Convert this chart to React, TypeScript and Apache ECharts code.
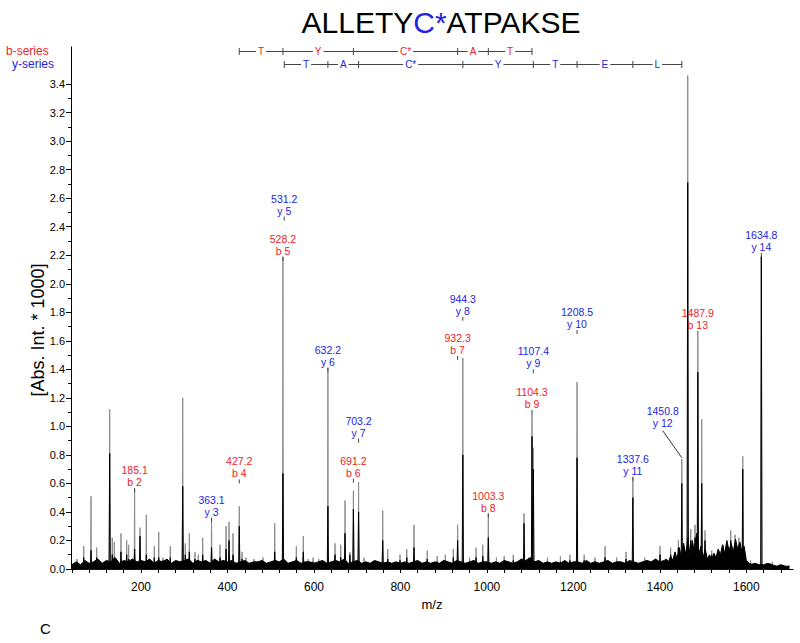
import React, { useEffect, useRef } from 'react';
import * as echarts from 'echarts';

const FONT = '"Liberation Sans", Arial, Helvetica, sans-serif';
const RED = '#ee2228';
const BLUE = '#2323e6';

// axis ticks
const xLabelValues = [200, 400, 600, 800, 1000, 1200, 1400, 1600];
const xTickValues = [40, 80, 120, 160, 200, 240, 280, 320, 360, 400, 440, 480, 520, 560, 600, 640, 680, 720, 760, 800, 840, 880, 920, 960, 1000, 1040, 1080, 1120, 1160, 1200, 1240, 1280, 1320, 1360, 1400, 1440, 1480, 1520, 1560, 1600, 1640, 1680];
const yLabelValues = [0, 0.2, 0.4, 0.6, 0.8, 1.0, 1.2, 1.4, 1.6, 1.8, 2.0, 2.2, 2.4, 2.6, 2.8, 3.0, 3.2, 3.4];
const yMinorValues = [0.1, 0.3, 0.5, 0.7, 0.9, 1.1, 1.3, 1.5, 1.7, 1.9, 2.1, 2.3, 2.5, 2.7, 2.9, 3.1, 3.3];

// spectrum peaks (m/z, outer trace height, inner trace height) in [Abs. Int. * 1000]
const peakMz = [52, 67.4, 84.3, 97.4, 127.5, 133.5, 138.2, 153.6, 166.8, 171.4, 185.1, 197.6, 212.2, 230.7, 240.9, 250.8, 267.7, 296.4, 302.4, 311.7, 324.8, 332.5, 342.6, 363.1, 382.7, 396.6, 403.5, 412.8, 427.2, 433.6, 442.8, 461, 482, 509.2, 528.2, 559.2, 575.3, 586, 598, 611, 632.2, 648.7, 661.9, 671.8, 683, 691.2, 703.2, 716, 759, 770.6, 799, 814.6, 831.4, 862, 885, 903.8, 922.3, 932.3, 944.3, 960, 974.9, 990.4, 1003.3, 1022, 1040, 1061, 1085.9, 1104.3, 1107.4, 1140, 1170, 1192, 1208.5, 1225, 1250, 1273.3, 1300, 1321.8, 1337.6, 1365, 1400.5, 1425, 1442.8, 1450.8, 1464.5, 1471.5, 1481.4, 1487.9, 1496.9, 1504.5, 1520, 1547, 1564, 1574, 1583, 1591.8, 1610, 1634.8, 1660];
const peakOuter = [0.07, 0.16, 0.51, 0.15, 1.12, 0.22, 0.19, 0.25, 0.2, 0.17, 0.56, 0.29, 0.38, 0.16, 0.26, 0.08, 0.16, 1.2, 0.18, 0.25, 0.12, 0.1, 0.22, 0.35, 0.17, 0.3, 0.33, 0.25, 0.44, 0.12, 0.08, 0.07, 0.08, 0.32, 2.19, 0.16, 0.23, 0.07, 0.08, 0.07, 1.41, 0.18, 0.17, 0.48, 0.12, 0.55, 0.61, 0.08, 0.41, 0.14, 0.1, 0.14, 0.31, 0.13, 0.09, 0.1, 0.14, 0.31, 1.48, 0.08, 0.15, 0.17, 0.39, 0.08, 0.09, 0.1, 0.39, 1.09, 0.85, 0.08, 0.09, 0.1, 1.31, 0.1, 0.08, 0.16, 0.08, 0.12, 0.64, 0.08, 0.16, 0.15, 0.2, 0.77, 3.46, 0.28, 0.31, 1.64, 1.05, 0.27, 0.13, 0.17, 0.27, 0.24, 0.22, 0.79, 0.06, 2.19, 0.05];
const peakInner = [0.05, 0.08, 0.13, 0.08, 0.81, 0.1, 0.08, 0.12, 0.1, 0.07, 0.14, 0.23, 0.1, 0.08, 0.08, 0.06, 0.08, 0.58, 0.1, 0.12, 0.07, 0.06, 0.1, 0.15, 0.08, 0.14, 0.2, 0.1, 0.3, 0.07, 0.05, 0.05, 0.05, 0.12, 0.67, 0.08, 0.12, 0.05, 0.05, 0.05, 0.44, 0.1, 0.08, 0.25, 0.1, 0.42, 0.4, 0.05, 0.2, 0.07, 0.06, 0.08, 0.15, 0.07, 0.05, 0.06, 0.08, 0.2, 0.8, 0.05, 0.08, 0.09, 0.22, 0.05, 0.05, 0.06, 0.32, 0.93, 0.7, 0.05, 0.05, 0.06, 0.78, 0.06, 0.05, 0.08, 0.05, 0.07, 0.5, 0.05, 0.1, 0.1, 0.15, 0.6, 2.71, 0.2, 0.22, 1.38, 0.6, 0.2, 0.1, 0.12, 0.2, 0.18, 0.16, 0.7, 0.04, 2.19, 0.03];

// baseline noise envelope, sampled in three stretches (start m/z, sampling step, levels)
const noiseFlatStart = 40;
const noiseFlatStep = 10;
const noiseFlat = [
  0.03, 0.05, 0.03, 0.06, 0.04, 0.05, 0.07, 0.04, 0.06, 0.05, 0.08, 0.04, 0.06, 0.05, 0.07, 0.05, 0.06,
  0.05, 0.07, 0.04, 0.06, 0.05, 0.07, 0.04, 0.06, 0.05, 0.06, 0.07, 0.04, 0.06, 0.05, 0.06, 0.04, 0.07, 0.05, 0.06, 0.05,
  0.06, 0.04, 0.05, 0.06, 0.04, 0.05, 0.05, 0.06, 0.04, 0.05, 0.06, 0.05, 0.07, 0.04, 0.05, 0.06, 0.04, 0.05, 0.05, 0.04,
  0.05, 0.06, 0.04, 0.05, 0.06, 0.05, 0.07, 0.04, 0.05, 0.06, 0.04, 0.05, 0.04, 0.06, 0.05, 0.04, 0.05, 0.04, 0.05, 0.04,
  0.05, 0.04, 0.05, 0.06, 0.04, 0.05, 0.04, 0.05, 0.04, 0.06, 0.05, 0.04, 0.06, 0.05, 0.04, 0.05, 0.06, 0.04, 0.05, 0.05,
  0.04, 0.05, 0.04, 0.06, 0.05, 0.04, 0.05, 0.07, 0.06, 0.08, 0.05, 0.06, 0.04, 0.05, 0.04, 0.05, 0.04, 0.06, 0.04, 0.05,
  0.05, 0.04, 0.06, 0.04, 0.05, 0.04, 0.05, 0.06, 0.04, 0.05, 0.05, 0.04, 0.06, 0.05, 0.04, 0.05, 0.06, 0.05, 0.07, 0.05, 0.06,
];
const noiseHumpStart = 1415;
const noiseHumpStep = 5;
const noiseHump = [
  0.07, 0.05, 0.09, 0.06, 0.12, 0.07, 0.15, 0.08, 0.18, 0.1, 0.22, 0.09, 0.2, 0.12, 0.25, 0.1, 0.16, 0.08, 0.14,
  0.07, 0.1, 0.06, 0.11, 0.08, 0.14, 0.1, 0.17, 0.11, 0.2, 0.13, 0.18, 0.12, 0.21, 0.14, 0.19, 0.12, 0.16, 0.06,
];
const noiseTailStart = 1610;
const noiseTailStep = 10;
const noiseTail = [0.03, 0.04, 0.03, 0.03, 0.04, 0.03, 0.02, 0.03, 0.02, 0.02];

// fragment annotations
const bMz = [185.1, 427.2, 528.2, 691.2, 932.3, 1003.3, 1104.3, 1487.9];
const bName = ['b 2', 'b 4', 'b 5', 'b 6', 'b 7', 'b 8', 'b 9', 'b 13'];
const bLabelAt = [0.54, 0.6, 2.16, 0.605, 1.466, 0.36, 1.087, 1.641];
const yMz = [363.1, 531.2, 632.2, 703.2, 944.3, 1107.4, 1208.5, 1337.6, 1450.8, 1634.8];
const yName = ['y 3', 'y 5', 'y 6', 'y 7', 'y 8', 'y 9', 'y 10', 'y 11', 'y 12', 'y 14'];
const yLabelAt = [0.332, 2.443, 1.384, 0.886, 1.741, 1.372, 1.648, 0.619, 0.952, 2.188];
const y12LabelMz = 1406.7;
const y12PeakTop = 0.78;

// sequence ladders
const bLadderMz = [427.2, 528.2, 691.2, 932.3, 1003.3, 1104.3];
const bLadderRes = ['T', 'Y', 'C*', 'A', 'T'];
const yLadderMz = [531.2, 632.2, 703.2, 944.3, 1107.4, 1208.5, 1337.6, 1450.8];
const yLadderRes = ['T', 'A', 'C*', 'Y', 'T', 'E', 'L'];

function buildOption() {
  const outer: number[][] = [];
  const inner: number[][] = [];
  peakMz.forEach((m, i) => {
    outer.push([m - 1, 0], [m, peakOuter[i]], [m + 1, 0]);
    inner.push([m - 1.5, 0], [m, peakInner[i]], [m + 1.5, 0]);
  });
  const noise: number[][] = [
    ...noiseFlat.map((v, i) => [noiseFlatStart + i * noiseFlatStep, v]),
    ...noiseHump.map((v, i) => [noiseHumpStart + i * noiseHumpStep, v]),
    ...noiseTail.map((v, i) => [noiseTailStart + i * noiseTailStep, v]),
  ];

  const annot = (mzs: number[], names: string[], ats: number[], color: string) => ({
    type: 'custom',
    coordinateSystem: 'cartesian2d',
    clip: false,
    silent: true,
    z: 10,
    data: mzs.map((m, i) => [m, ats[i]]),
    encode: { x: 0, y: 1 },
    renderItem: (params: any, api: any) => {
      const i = params.dataIndex;
      const m = mzs[i];
      const shifted = m === 1450.8;
      const p = api.coord([shifted ? y12LabelMz : m, ats[i]]);
      const font = `10.5px ${FONT}`;
      const kids: any[] = [
        { type: 'text', style: { text: m.toFixed(1), x: p[0], y: p[1] - 22, align: 'center', verticalAlign: 'middle', fill: color, font } },
        { type: 'text', style: { text: names[i], x: p[0], y: p[1] - 10, align: 'center', verticalAlign: 'middle', fill: color, font } },
      ];
      if (shifted) {
        const q = api.coord([m, y12PeakTop]);
        kids.push({ type: 'line', shape: { x1: p[0], y1: p[1] - 2.5, x2: q[0], y2: q[1] }, style: { stroke: '#333', lineWidth: 1 } });
      } else {
        kids.push({ type: 'line', shape: { x1: p[0], y1: p[1] - 4, x2: p[0], y2: p[1] }, style: { stroke: '#444', lineWidth: 1 } });
      }
      return { type: 'group', children: kids };
    },
  });

  const ladder = (mzs: number[], res: string[], rowY: number, color: string) => ({
    type: 'custom',
    coordinateSystem: 'cartesian2d',
    clip: false,
    silent: true,
    z: 10,
    data: res.map((r, i) => [mzs[i], mzs[i + 1], 0]),
    encode: { x: [0, 1], y: 2 },
    renderItem: (params: any, api: any) => {
      const i = params.dataIndex;
      const x1 = api.coord([mzs[i], 0])[0];
      const x2 = api.coord([mzs[i + 1], 0])[0];
      const st = { stroke: '#444', lineWidth: 1 };
      const kids: any[] = [
        { type: 'line', shape: { x1, y1: rowY, x2, y2: rowY }, style: st },
        { type: 'line', shape: { x1, y1: rowY - 3.5, x2: x1, y2: rowY + 3.5 }, style: st },
        {
          type: 'text', z2: 5,
          style: { text: res[i], x: (x1 + x2) / 2, y: rowY, align: 'center', verticalAlign: 'middle', fill: color, font: `10px ${FONT}`, backgroundColor: '#fff', padding: [0, 2] },
        },
      ];
      if (i === res.length - 1) kids.push({ type: 'line', shape: { x1: x2, y1: rowY - 3.5, x2, y2: rowY + 3.5 }, style: st });
      return { type: 'group', children: kids };
    },
  });

  return {
    animation: false,
    backgroundColor: '#fff',
    grid: { left: 71, right: 7, top: 47, bottom: 74, outerBoundsMode: 'none' },
    xAxis: {
      type: 'value', min: 38, max: 1708,
      axisLine: { show: true, lineStyle: { color: '#000', width: 1 } },
      axisTick: { show: true, customValues: xTickValues, length: 4, lineStyle: { color: '#000' } },
      axisLabel: { customValues: xLabelValues, color: '#000', fontSize: 12, fontFamily: FONT, margin: 12, formatter: (v: number) => String(v) },
      splitLine: { show: false },
      name: 'm/z', nameLocation: 'middle', nameGap: 29,
      nameTextStyle: { color: '#000', fontSize: 13, fontFamily: FONT },
    },
    yAxis: [
      {
        type: 'value', min: 0, max: 3.66,
        axisLine: { show: true, lineStyle: { color: '#000', width: 1 } },
        axisTick: { show: true, customValues: yLabelValues, length: 5, lineStyle: { color: '#000' } },
        axisLabel: { customValues: yLabelValues, color: '#000', fontSize: 11, fontFamily: FONT, margin: 6, formatter: (v: number) => v.toFixed(1) },
        splitLine: { show: false },
      },
      {
        type: 'value', min: 0, max: 3.66, position: 'left',
        axisLine: { show: false },
        axisTick: { show: true, customValues: yMinorValues, length: 3, lineStyle: { color: '#000' } },
        axisLabel: { show: false },
        splitLine: { show: false },
      },
    ],
    series: [
      { type: 'line', data: outer, showSymbol: false, silent: true, z: 1, lineStyle: { color: '#8c8c8c', width: 1 } },
      { type: 'line', data: inner, showSymbol: false, silent: true, z: 2, lineStyle: { color: '#000', width: 1 } },
      { type: 'line', data: noise, showSymbol: false, silent: true, z: 3, lineStyle: { color: '#000', width: 1 }, areaStyle: { color: '#000', opacity: 1 } },
      annot(bMz, bName, bLabelAt, RED),
      annot(yMz, yName, yLabelAt, BLUE),
      ladder(bLadderMz, bLadderRes, 51.5, RED),
      ladder(yLadderMz, yLadderRes, 64.5, BLUE),
    ],
    graphic: [
      {
        type: 'text', x: 441, y: 22, silent: true,
        style: {
          text: '{k|ALLETY}{c|C*}{k|ATPAKSE}', align: 'center', verticalAlign: 'middle',
          fontSize: 30, fontFamily: FONT, fill: '#000',
          rich: { k: { fill: '#000', fontSize: 30, fontFamily: FONT }, c: { fill: BLUE, fontSize: 30, fontFamily: FONT } },
        },
      },
      { type: 'text', x: 6, y: 51, silent: true, style: { text: 'b-series', fill: RED, font: `12px ${FONT}`, verticalAlign: 'middle' } },
      { type: 'text', x: 12, y: 64, silent: true, style: { text: 'y-series', fill: BLUE, font: `12px ${FONT}`, verticalAlign: 'middle' } },
      { type: 'text', x: 38, y: 330, rotation: Math.PI / 2, silent: true, style: { text: '[Abs. Int. * 1000]', fill: '#000', font: `18px ${FONT}`, align: 'center', verticalAlign: 'middle' } },
      { type: 'text', x: 40, y: 628, silent: true, style: { text: 'C', fill: '#000', font: `15px ${FONT}`, verticalAlign: 'middle' } },
    ],
  };
}

export default function App() {
  const ref = useRef<HTMLDivElement>(null);
  useEffect(() => {
    if (!ref.current) return;
    const chart = echarts.init(ref.current, null, { renderer: 'svg' });
    chart.setOption(buildOption() as any);
    return () => chart.dispose();
  }, []);
  return <div ref={ref} style={{ position: 'absolute', left: 0, top: 0, width: 800, height: 643 }} />;
}
